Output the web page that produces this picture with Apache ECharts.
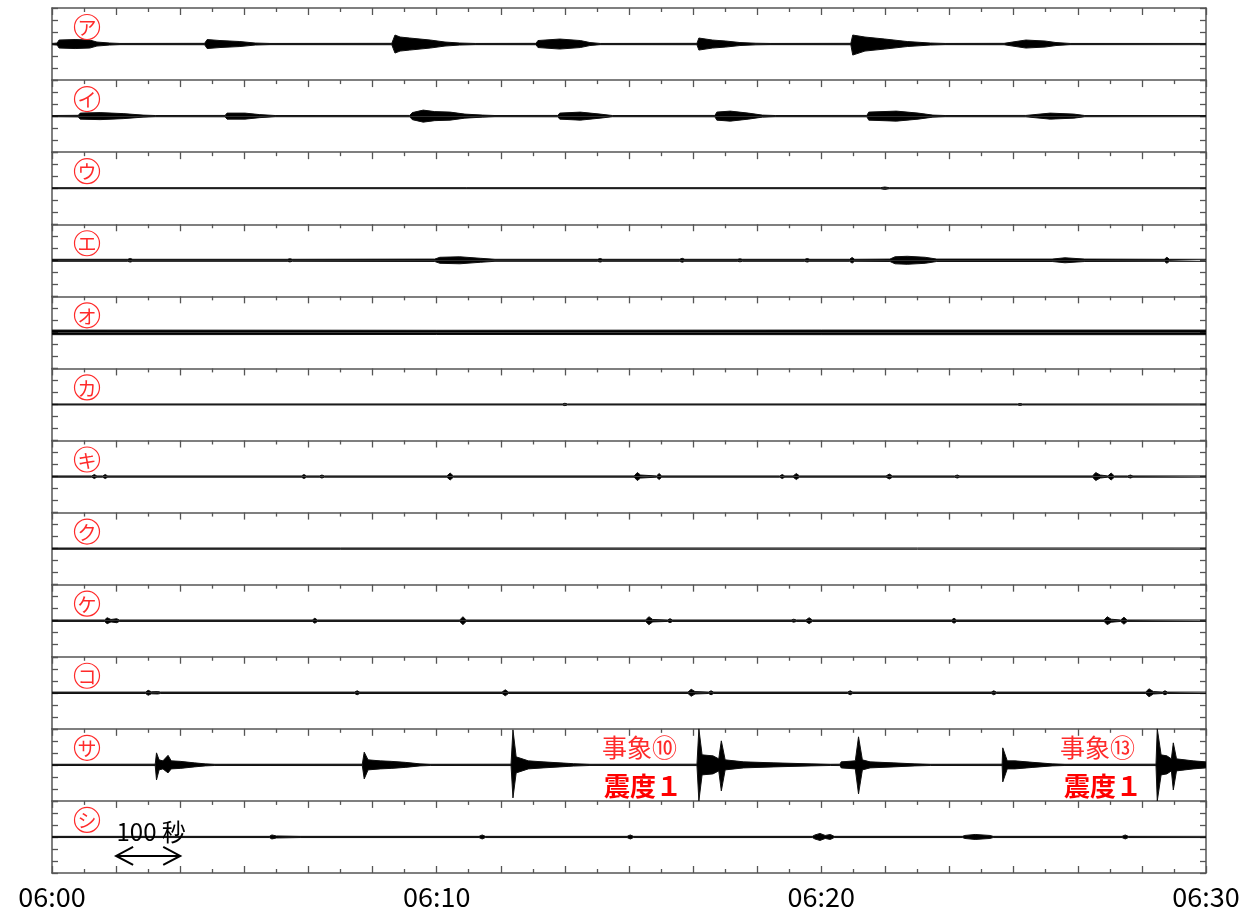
<!DOCTYPE html>
<html><head><meta charset="utf-8">
<script src="https://cdn.jsdelivr.net/npm/echarts@6/dist/echarts.min.js"></script>
<style>html,body{margin:0;padding:0;background:#fff}#c{width:1245px;height:914px}</style>
</head><body><div id="c"></div>
<script>
// ---------------- data ----------------
const stationLabels = ['ア','イ','ウ','エ','オ','カ','キ','ク','ケ','コ','サ','シ'];
const timeTickValues = [0, 600, 1200, 1800];
const timeTickLabels = ['06:00', '06:10', '06:20', '06:30'];
const scaleBarText = '100 秒';
const scaleBarSeconds = [100, 200];
const eventTexts = ['事象⑩', '事象⑬'];
const intensityText = '震度１';

// envelopes: [seconds after 06:00, upper amplitude, lower amplitude (optional)]
const envA = [[0,0.6],[8,1],[11,4],[36,4.5],[59,4],[70,2],[90,1],[106,0.6],
  [238,0.7],[242,4.5],[262,3.5],[293,2.5],[317,1],[340,0.6],
  [530,0.7],[535,9],[543,7],[558,6],[590,4],[613,2],[636,1],[660,0.6],
  [755,0.7],[758,3.5],[792,5],[824,3.5],[839,1.5],[855,0.6],
  [1006,0.7],[1009,6],[1030,4],[1051,3],[1073,1.5],[1098,0.8],[1120,0.6],
  [1246,0.7],[1249,9,11],[1268,7],[1299,5],[1334,2.5],[1370,1],[1393,0.6],
  [1485,0.7],[1488,2.5],[1519,4],[1549,3],[1566,1.5],[1588,0.6],[1800,0.6]];
const envI = [[0,0.6],[41,0.8],[44,3],[75,3.5],[111,2.5],[142,1],[161,0.6],
  [270,0.7],[273,3],[301,3],[324,1.5],[348,0.6],
  [558,0.7],[562,3.5],[579,6],[597,4.5],[621,4],[644,2],[672,1],[691,0.6],
  [789,0.7],[792,3],[824,4],[855,2],[874,0.6],
  [1034,0.7],[1037,4],[1058,5],[1086,3],[1108,1],[1128,0.6],
  [1271,0.7],[1274,4],[1317,5],[1351,3],[1374,1],[1393,0.6],
  [1519,0.7],[1522,2.5],[1557,3],[1594,2],[1611,0.6],[1800,0.6]];
const envU = [[0,0.5],[1292,0.5],[1299,1.2],[1306,0.5],[1800,0.5]];
const envE = [[0,1],[118,1],[122,1.8],[126,1],[367,1],[371,1.6],[375,1],
  [597,1.2],[605,3],[636,3.5],[668,2],[691,1],
  [851,1],[855,1.8],[859,1],[979,1],[983,2],[987,1],[1069,1],[1073,1.5],[1077,1],
  [1174,1],[1178,1.8],[1182,1],[1244,1],[1248,2.8],[1252,1],
  [1307,1.2],[1315,3.5],[1334,4],[1362,3],[1380,1.2],
  [1560,1.2],[1580,2.5],[1611,1.2],[1735,1],[1739,3],[1743,1],[1800,1]];
const envO = [[0,2.3],[600,2.1],[1200,2.3],[1800,2.3]];
const envKa = [[0,0.5],[796,0.5],[800,1.2],[804,0.5],[1506,0.5],[1510,1],[1514,0.5],[1800,0.5]];
const envKi = [[0,0.6],[62,0.6],[66,2],[70,0.6],[79,0.6],[83,2],[87,0.6],
  [389,0.6],[393,2],[397,0.6],[417,0.6],[421,1.5],[425,0.6],
  [616,0.6],[621,3.5],[626,0.6],
  [908,0.6],[913,4],[918,1.5],[943,0.6],[947,3],[951,0.6],
  [1135,0.6],[1139,2],[1143,0.6],[1156,0.6],[1161,3],[1166,0.6],
  [1301,0.6],[1306,2.5],[1311,0.6],[1408,0.6],[1412,1.5],[1416,0.6],
  [1623,0.6],[1628,4],[1635,1.5],[1647,0.6],[1652,3.5],[1657,0.6],[1678,0.6],[1682,1.5],[1686,0.6],[1800,0.6]];
const envKu = [[0,0.6],[1800,0.6]];
const envKe = [[0,0.7],[82,0.7],[86,3],[92,1.2],[101,2],[105,0.7],
  [406,0.7],[410,2.5],[414,0.7],[636,0.7],[641,4],[646,0.7],
  [926,0.7],[931,4],[937,1.2],[960,0.7],[964,2],[968,0.7],
  [1153,0.7],[1157,1.5],[1161,0.7],[1176,0.7],[1181,3],[1186,0.7],
  [1403,0.7],[1407,2.5],[1411,0.7],
  [1641,0.7],[1646,4],[1652,1.5],[1667,0.7],[1672,3.5],[1677,0.7],[1800,0.7]];
const envKo = [[0,0.7],[146,0.7],[150,2.5],[155,1],[165,1.2],[169,0.7],
  [472,0.7],[476,2],[480,0.7],[702,0.7],[707,3],[712,0.7],
  [992,0.7],[997,3.5],[1003,1.2],[1024,0.7],[1028,2],[1032,0.7],
  [1241,0.7],[1245,2],[1249,0.7],[1465,0.7],[1469,2],[1473,0.7],
  [1706,0.7],[1711,4],[1718,1.2],[1732,0.7],[1736,2],[1740,0.7],[1800,0.7]];
const envSa = [[0,0.6],[161,0.7],[163,12,15],[167,5],[173,4],[181,9.5,8],[186,4],[200,3.5],[222,2],[239,1],[254,0.6],
  [484,0.7],[487,12.7,14],[493,5],[512,4],[529,3.5],[551,2.5],[574,1],[590,0.6],
  [716,0.7],[719,35,33],[724,8],[743,4],[766,3],[805,1.5],[808,2.5],[813,1.2],[839,0.6],
  [1006,0.7],[1009,36,36],[1014,10],[1031,9],[1040,6],[1044,24,26],[1050,5],[1079,3],[1126,2],[1184,1],[1214,0.6],
  [1229,0.7],[1231,3],[1253,4],[1258,28,29],[1264,5],[1276,3],[1312,2],[1346,1],[1370,0.6],
  [1482,0.7],[1483,17,17],[1490,4],[1502,4],[1530,2.5],[1560,1],[1580,0.6],
  [1722,0.7],[1724,36,36],[1730,10],[1739,9],[1746,6],[1749,22,25],[1754,6],[1757,6],[1780,4],[1800,3]];
const envShi = [[0,0.6],[339,0.6],[343,2],[350,1],[387,0.6],
  [666,0.6],[671,2],[676,0.6],[897,0.6],[902,2],[907,0.6],
  [1186,0.6],[1190,2],[1198,3.5],[1206,1.5],[1214,2.5],[1220,0.6],
  [1420,0.6],[1424,1.5],[1440,2.5],[1463,1.5],[1468,0.6],
  [1669,0.6],[1674,2],[1679,0.6],[1800,0.6]];
const envelopes = [envA, envI, envU, envE, envO, envKa, envKi, envKu, envKe, envKo, envSa, envShi];

// ---------------- layout ----------------
const N = envelopes.length;
const L = 52, W = 1154, TOP = 8, H = 865 / N;
const AX = '#555';
const grids = [], xAxes = [], yAxes = [], series = [];
for (let i = 0; i < N; i++) {
  grids.push({left: L, width: W, top: TOP + i * H, height: H});
  xAxes.push({gridIndex: i, type: 'value', min: 0, max: 1800, interval: 100, position: 'top',
    axisLine: {show: true, onZero: false, lineStyle: {color: AX, width: 1.5}},
    axisTick: {show: true, inside: true, length: 7, lineStyle: {color: AX, width: 1.3}},
    minorTick: {show: true, splitNumber: 2, length: 4, lineStyle: {color: AX, width: 1.3}},
    axisLabel: {show: false}, splitLine: {show: false}});
  ['left', 'right'].forEach(pos => yAxes.push({gridIndex: i, type: 'value', min: -36, max: 36, interval: 12, position: pos,
    axisLine: {show: true, onZero: false, lineStyle: {color: AX, width: 1.5}},
    axisTick: {show: true, inside: true, length: 6, lineStyle: {color: AX, width: 1.3}},
    axisLabel: {show: false}, splitLine: {show: false}}));
  const env = envelopes[i];
  const common = {type: 'line', xAxisIndex: i, yAxisIndex: 2 * i, symbol: 'none', silent: true, animation: false,
    lineStyle: {color: '#111', width: 1}, areaStyle: {color: '#000', opacity: 1}, z: 3};
  series.push(Object.assign({}, common, {data: env.map(p => [p[0], p[1]])}));
  series.push(Object.assign({}, common, {data: env.map(p => [p[0], -(p[2] !== undefined ? p[2] : p[1])])}));
}
// bottom time axis
xAxes.push({gridIndex: N - 1, type: 'value', min: 0, max: 1800, interval: 100, position: 'bottom',
  axisLine: {show: true, onZero: false, lineStyle: {color: AX, width: 1.5}},
  axisTick: {show: true, inside: true, length: 7, lineStyle: {color: AX, width: 1.3}},
  minorTick: {show: true, splitNumber: 2, length: 4, lineStyle: {color: AX, width: 1.3}},
  axisLabel: {show: true, showMinLabel: true, showMaxLabel: true, margin: 10, color: '#000', fontSize: 27,
    fontFamily: '"Noto Sans CJK JP"',
    formatter: v => { const k = timeTickValues.indexOf(v); return k >= 0 ? timeTickLabels[k] : ''; }},
  splitLine: {show: false}});

const chart = echarts.init(document.getElementById('c'), null, {renderer: 'canvas'});
chart.setOption({animation: false, backgroundColor: '#fff', grid: grids, xAxis: xAxes, yAxis: yAxes, series: series});

// ---------------- annotations ----------------
const graphics = [];
const RED = '#ff2a2a';
for (let i = 0; i < N; i++) {
  const cy = TOP + i * H + 19;
  graphics.push({type: 'circle', z: 10, shape: {cx: 87, cy: cy, r: 12.5},
    style: {stroke: RED, lineWidth: 1.2, fill: null}});
  graphics.push({type: 'text', x: 87, y: cy + 1, z: 10,
    style: {text: stationLabels[i], fill: RED, fontSize: 19, fontFamily: '"Noto Sans CJK JP"', align: 'center', verticalAlign: 'middle'}});
}
const evY1 = TOP + 10 * H + 19, evY2 = TOP + 10 * H + 57;
[[677, 682], [1135, 1142]].forEach((xs, k) => {
  graphics.push({type: 'text', x: xs[0], y: evY1, z: 10,
    style: {text: eventTexts[k], fill: RED, fontSize: 25, fontFamily: '"Noto Sans CJK JP"', align: 'right', verticalAlign: 'middle'}});
  graphics.push({type: 'text', x: xs[1], y: evY2, z: 10,
    style: {text: intensityText, fill: '#ff0000', fontSize: 26, fontWeight: 'bold', fontFamily: '"Noto Sans CJK JP"', align: 'right', verticalAlign: 'middle'}});
});
// scale bar (100 s) in the last panel
const sIdx = 2 * (N - 1);
const p1 = chart.convertToPixel({seriesIndex: sIdx}, [scaleBarSeconds[0], -19]);
const p2 = chart.convertToPixel({seriesIndex: sIdx}, [scaleBarSeconds[1], -19]);
const arrowStyle = {stroke: '#000', lineWidth: 2, fill: null};
graphics.push({type: 'polyline', z: 10, shape: {points: [p1, p2]}, style: arrowStyle});
graphics.push({type: 'polyline', z: 10, shape: {points: [[p1[0] + 17, p1[1] - 9], p1, [p1[0] + 17, p1[1] + 9]]}, style: arrowStyle});
graphics.push({type: 'polyline', z: 10, shape: {points: [[p2[0] - 17, p2[1] - 9], p2, [p2[0] - 17, p2[1] + 9]]}, style: arrowStyle});
graphics.push({type: 'text', x: (p1[0] + p2[0]) / 2 + 3, y: p1[1] - 24, z: 10,
  style: {text: scaleBarText, fill: '#000', fontSize: 24, fontFamily: '"Noto Sans CJK JP"', align: 'center', verticalAlign: 'middle'}});
chart.setOption({graphic: graphics});
</script></body></html>
